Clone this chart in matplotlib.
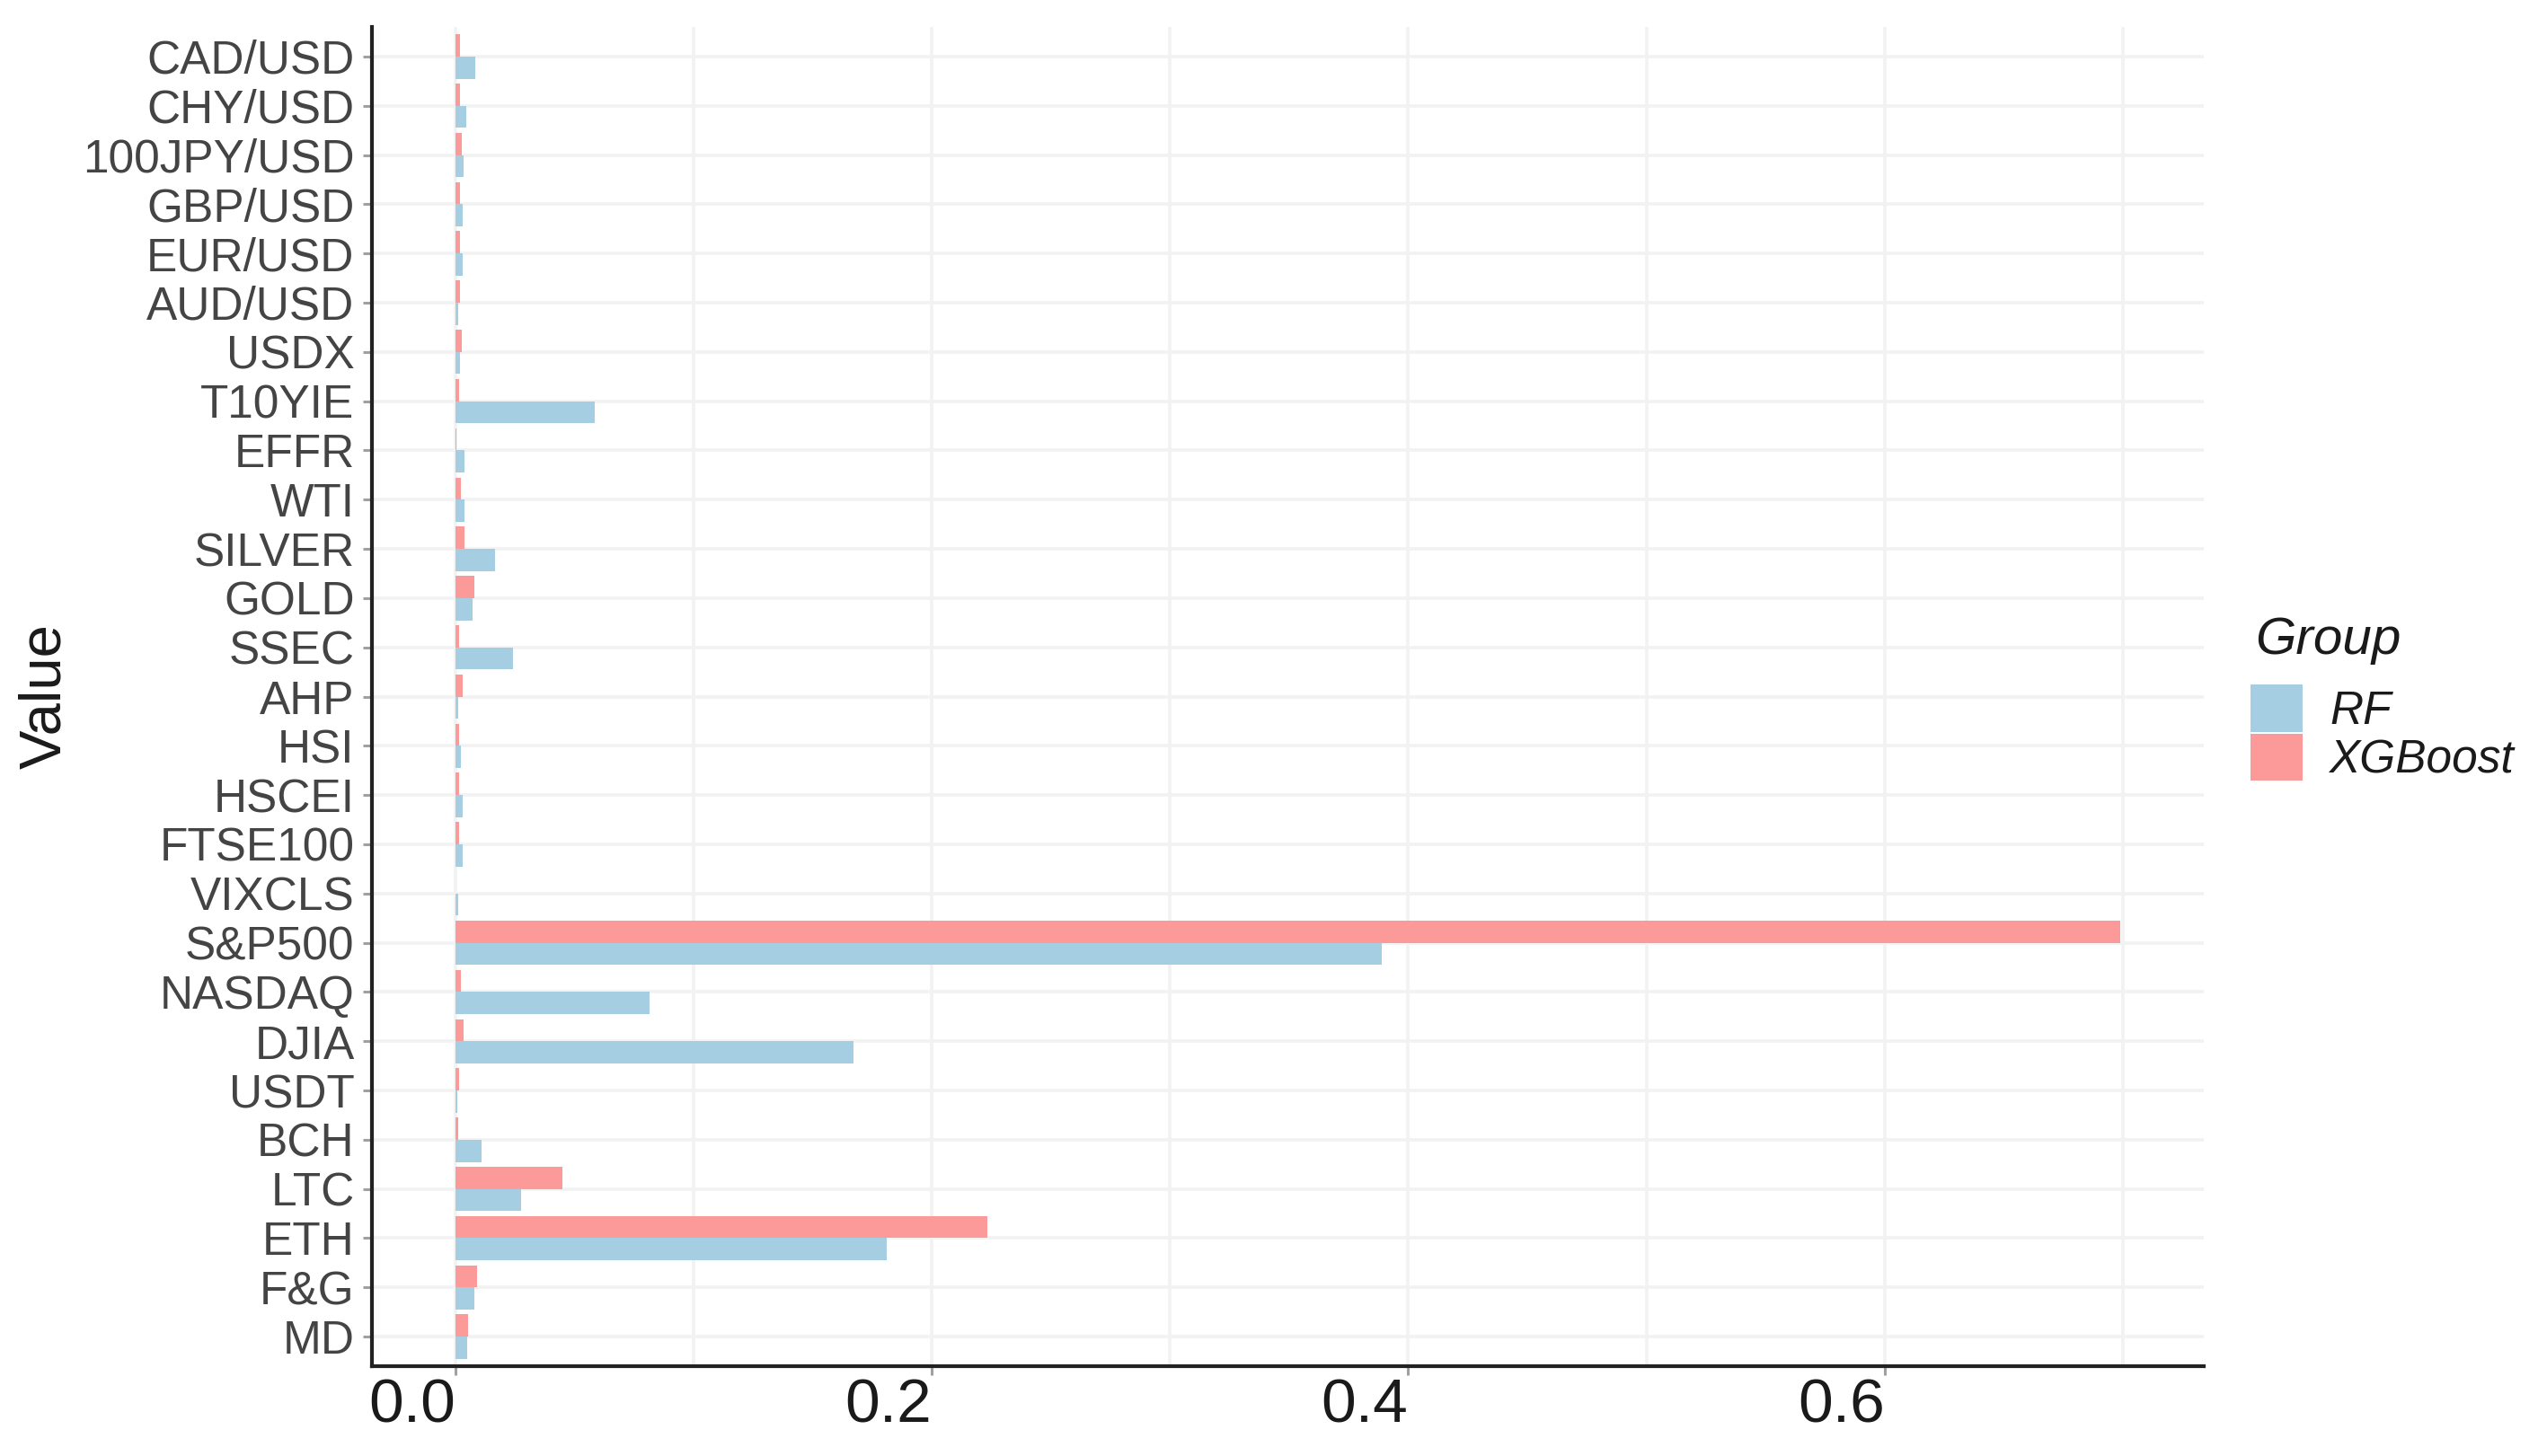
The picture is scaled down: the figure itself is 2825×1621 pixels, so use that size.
import numpy as np
import matplotlib
matplotlib.use("Agg")
import matplotlib.pyplot as plt
from matplotlib.patches import Patch

plt.rcParams['font.family'] = ['Liberation Sans', 'DejaVu Sans']

categories = ["CAD/USD", "CHY/USD", "100JPY/USD", "GBP/USD", "EUR/USD", "AUD/USD",
              "USDX", "T10YIE", "EFFR", "WTI", "SILVER", "GOLD", "SSEC", "AHP",
              "HSI", "HSCEI", "FTSE100", "VIXCLS", "S&P500", "NASDAQ", "DJIA",
              "USDT", "BCH", "LTC", "ETH", "F&G", "MD"]

rf_values = [0.0086, 0.0046, 0.0037, 0.0030, 0.0030, 0.0012, 0.0020, 0.0586,
             0.0040, 0.0040, 0.0169, 0.0074, 0.0243, 0.0012, 0.0025, 0.0030,
             0.0030, 0.0012, 0.389, 0.0815, 0.167, 0.0010, 0.0110, 0.0278,
             0.181, 0.0080, 0.0052]

xgb_values = [0.0020, 0.0020, 0.0028, 0.0020, 0.0020, 0.0020, 0.0028, 0.0015,
              0.0005, 0.0022, 0.0040, 0.0080, 0.0018, 0.0030, 0.0018, 0.0018,
              0.0018, 0.0003, 0.699, 0.0022, 0.0037, 0.0015, 0.0012, 0.0450,
              0.2235, 0.0091, 0.0054]

groups = ["RF", "XGBoost"]
colors = {"RF": "#A6CEE3", "XGBoost": "#FB9A99"}

major_ticks = [0.0, 0.2, 0.4, 0.6]
major_labels = ["0.0", "0.2", "0.4", "0.6"]
minor_ticks = [0.1, 0.3, 0.5, 0.7]

W, H = 2825, 1621
fig = plt.figure(figsize=(W / 100, H / 100), dpi=100)
ax = fig.add_axes([414 / W, 1 - 1521 / H, (2453 - 414) / W, (1521 - 30) / H])

n = len(categories)
ypos = np.arange(n)[::-1] + 1.0
bw = 0.45
ax.barh(ypos - bw / 2, rf_values, height=bw, color=colors["RF"], zorder=3, linewidth=0)
ax.barh(ypos + bw / 2, xgb_values, height=bw, color=colors["XGBoost"], zorder=3, linewidth=0)

xmax = max(max(rf_values), max(xgb_values))
ax.set_xlim(-0.05 * xmax, 1.05 * xmax)
ax.set_ylim(0.4, n + 0.6)

ax.set_yticks(ypos)
ax.set_yticklabels(categories, fontsize=37, color="#444444")
ax.set_xticks(major_ticks)
ax.set_xticklabels(major_labels, fontsize=50, color="#1A1A1A", ha="right")
ax.set_xticks(minor_ticks, minor=True)

grid_col = "#F2F2F2"
ax.grid(True, which="major", axis="both", color=grid_col, linewidth=2.6, zorder=0)
ax.grid(True, which="minor", axis="x", color=grid_col, linewidth=2.6, zorder=0)
ax.set_axisbelow(True)

ax.tick_params(axis="both", which="major", length=7, width=2.2, color="#A0A0A0")
ax.tick_params(axis="y", which="major", pad=7)
ax.tick_params(axis="x", which="major", pad=2)
ax.tick_params(axis="x", which="minor", length=0)

for s in ["top", "right"]:
    ax.spines[s].set_visible(False)
for s in ["left", "bottom"]:
    ax.spines[s].set_color("#222222")
    ax.spines[s].set_linewidth(3.0)

fig.text(50 / W, 1 - 775 / H, "Value", rotation=90, ha="center", va="center",
         fontsize=47, color="#1A1A1A")

# legend title
fig.text(2510 / W, 1 - 728 / H, "Group", ha="left", va="baseline",
         fontsize=42, fontstyle="italic", color="#1A1A1A")

handles = [Patch(facecolor=colors[g], edgecolor="none", label=g) for g in groups]
leg = fig.legend(handles=handles, loc="upper left",
                 bbox_to_anchor=(2505 / W, 1 - 762 / H),
                 frameon=False, fontsize=37,
                 handlelength=1.12, handleheight=1.2, handletextpad=0.6,
                 labelspacing=0.0, borderpad=0, borderaxespad=0)
for t in leg.get_texts():
    t.set_fontstyle("italic")
    t.set_color("#1A1A1A")

fig.savefig("out.png", dpi=100)
